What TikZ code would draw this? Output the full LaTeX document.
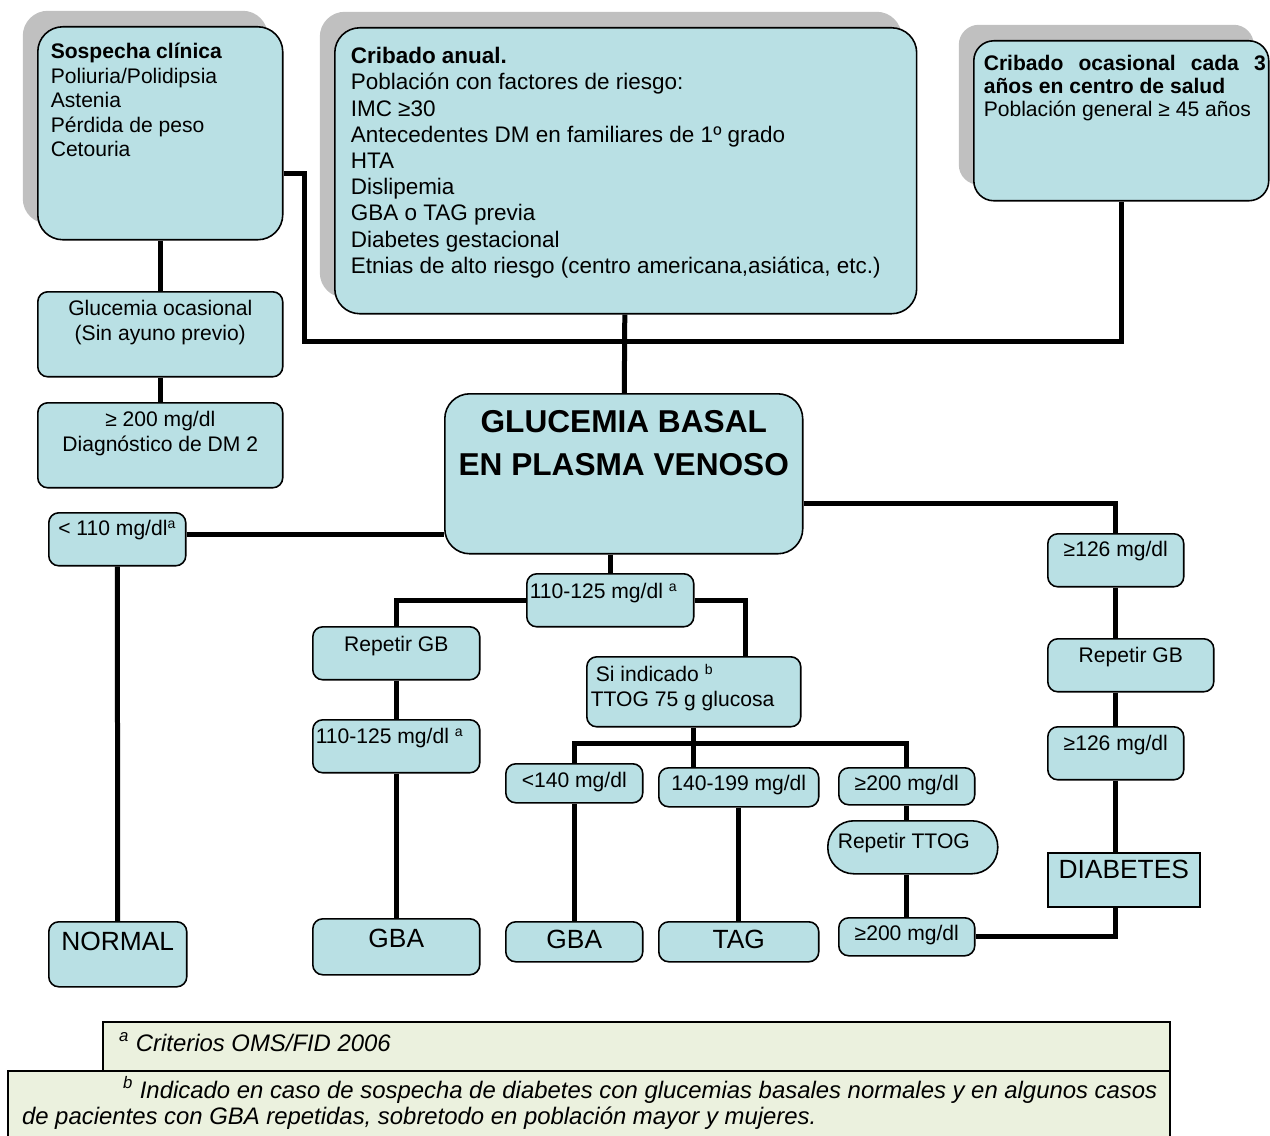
\documentclass[tikz,border=0pt]{standalone}
\usepackage{fontspec}
\setmainfont{Liberation Sans}
\usetikzlibrary{shadows}

\definecolor{celeste}{RGB}{185,224,228}
\definecolor{gris}{RGB}{192,192,192}
\definecolor{verdenota}{RGB}{235,241,222}

% caja: ancho, alto, altura de la primera linea, texto
\newcommand{\bloque}[4]{\parbox[c][#2][t]{#1}{\rule{0pt}{#3}#4}}

\begin{document}
\begin{tikzpicture}[x=0.02cm, y=-0.02cm,
  caja/.style={draw, fill=celeste, line width=0.9pt, rounded corners=0.2cm, inner sep=0pt, anchor=north west, font=\fontsize{12}{14.2}\selectfont},
  grande/.style={caja, rounded corners=0.5cm, drop shadow={shadow xshift=-0.3cm, shadow yshift=0.32cm, fill=gris, opacity=1}},
  final/.style={caja, font=\fontsize{15}{17}\selectfont},
  nota/.style={draw, fill=verdenota, line width=1.2pt, inner sep=0pt, anchor=north west, font=\fontsize{13.6}{14.8}\selectfont\itshape},
  conector/.style={line width=0.1cm}]

\useasboundingbox (0,0) rectangle (1270,1135);

% cribados
\node[grande, font=\fontsize{12}{13.95}\selectfont] (sosp) at (37,26) {\bloque{4.9cm}{4.26cm}{0.64cm}{\leftskip=0.26cm\relax
  \textbf{Sospecha clínica}\\Poliuria/Polidipsia\\Astenia\\Pérdida de peso\\Cetouria}};
\node[grande, font=\fontsize{12.8}{14.9}\selectfont] (anual) at (334,27) {\bloque{11.64cm}{5.72cm}{0.72cm}{\leftskip=0.32cm\relax
  \textbf{Cribado anual.}\\Población con factores de riesgo:\\IMC ≥30\\Antecedentes DM en familiares de 1º grado\\HTA\\Dislipemia\\GBA o TAG previa\\Diabetes gestacional\\Etnias de alto riesgo (centro americana,asiática, etc.)}};
\node[grande, rounded corners=0.4cm, font=\fontsize{12}{13.1}\selectfont] (ocas) at (973,40) {\bloque{5.9cm}{3.2cm}{0.6cm}{\leftskip=0.2cm\rightskip=0.06cm\relax
  \textbf{Cribado\hfill ocasional\hfill cada\hfill 3}\\\textbf{años en centro de salud}\\Población general ≥ 45 años}};

% rama izquierda
\node[caja] (gluoc) at (37,291) {\bloque{4.9cm}{1.7cm}{0.48cm}{\centering Glucemia ocasional\\(Sin ayuno previo)}};
\node[caja] (diag) at (37,402) {\bloque{4.9cm}{1.7cm}{0.48cm}{\centering ≥ 200 mg/dl\\Diagnóstico de DM 2}};
\node[caja] (menos110) at (48,512) {\bloque{2.74cm}{1.06cm}{0.46cm}{\centering < 110 mg/dl\textsuperscript{a}}};
\node[final] (normal) at (48,921) {\bloque{2.76cm}{1.3cm}{0.58cm}{\centering NORMAL}};

% glucemia basal
\node[caja, rounded corners=0.5cm, font=\fontsize{18}{24.4}\selectfont\bfseries] (gb) at (444,393) {\bloque{7.16cm}{3.2cm}{0.78cm}{\centering GLUCEMIA BASAL\\EN PLASMA VENOSO}};

% rama central
\node[caja] (t110a) at (526,573) {\bloque{3.34cm}{1.06cm}{0.5cm}{\leftskip=0.06cm\relax 110-125 mg/dl \textsuperscript{a}}};
\node[caja] (repgbL) at (312,626) {\bloque{3.34cm}{1.06cm}{0.5cm}{\centering Repetir GB}};
\node[caja] (t110b) at (312,719) {\bloque{3.34cm}{1.06cm}{0.48cm}{\leftskip=0.06cm\relax 110-125 mg/dl \textsuperscript{a}}};
\node[final] (gbaL) at (312,918) {\bloque{3.34cm}{1.12cm}{0.58cm}{\centering GBA}};
\node[caja] (siind) at (586,656) {\bloque{4.28cm}{1.4cm}{0.5cm}{\leftskip=0.08cm\relax\hspace*{0.1cm}Si indicado \textsuperscript{b}\\TTOG 75 g glucosa}};
\node[caja] (m140) at (505,763) {\bloque{2.74cm}{0.78cm}{0.48cm}{\centering <140 mg/dl}};
\node[caja] (t140) at (658,767) {\bloque{3.2cm}{0.78cm}{0.46cm}{\centering 140-199 mg/dl}};
\node[caja] (m200a) at (838,767) {\bloque{2.72cm}{0.74cm}{0.46cm}{\centering ≥200 mg/dl}};
\node[caja, rounded corners=0.52cm] (rttog) at (827,820) {\bloque{3.4cm}{1.06cm}{0.56cm}{\leftskip=0.2cm\relax Repetir TTOG}};
\node[caja] (m200b) at (838,917) {\bloque{2.72cm}{0.76cm}{0.46cm}{\centering ≥200 mg/dl}};
\node[final] (gbaM) at (505,921) {\bloque{2.74cm}{0.8cm}{0.54cm}{\centering GBA}};
\node[final] (tag) at (658,921) {\bloque{3.2cm}{0.8cm}{0.54cm}{\centering TAG}};

% rama derecha
\node[caja] (mas126a) at (1047,533) {\bloque{2.72cm}{1.06cm}{0.46cm}{\centering ≥126 mg/dl}};
\node[caja] (repgbR) at (1047,638) {\bloque{3.32cm}{1.06cm}{0.48cm}{\centering Repetir GB}};
\node[caja] (mas126b) at (1047,726) {\bloque{2.72cm}{1.06cm}{0.48cm}{\centering ≥126 mg/dl}};
\node[final, sharp corners] (diab) at (1047,852) {\bloque{3.04cm}{1.08cm}{0.52cm}{\centering DIABETES}};

% notas
\node[nota] (notaA) at (102,1021) {\bloque{21.34cm}{0.98cm}{0.58cm}{\leftskip=0.32cm\relax\textsuperscript{a} Criterios OMS/FID 2006}};
\node[nota] (notaB) at (7,1070) {\bloque{23.24cm}{1.4cm}{0.54cm}{\leftskip=0.28cm\relax\hspace*{2.02cm}\mbox{\textsuperscript{b} Indicado en caso de sospecha de diabetes con glucemias basales normales y en algunos casos}\\de pacientes con GBA repetidas, sobretodo en población mayor y mujeres.}};

% conectores
\coordinate (codo) at (304,341);
\coordinate (izq) at ([yshift=0.1cm]menos110.east);
\coordinate (der) at ([yshift=-0.6cm]gb.east);

\draw[conector] (sosp) edge (gluoc)
  (gluoc) edge (diag)
  (anual) edge (gb)
  (menos110) edge (normal)
  (repgbL) edge (t110b)
  (t110b) edge (gbaL)
  (m140) edge (gbaM)
  (t140) edge (tag);

\draw[conector] ([yshift=-0.8cm]sosp.east) -| (codo) -| (ocas.south);
\draw[conector] (izq) -- (izq -| gb.west);
\draw[conector] (der) -| (mas126a.north);
\draw[conector] (mas126a.south) -- (mas126a.south |- repgbR.north);
\draw[conector] (mas126b.north |- repgbR.south) -- (mas126b.north);
\draw[conector] (mas126b.south) -- (mas126b.south |- diab.north);
\draw[conector] (m200b.east) -| (mas126b.south |- diab.south);
\draw[conector] (t110a.north |- gb.south) -- (t110a.north);
\draw[conector] (t110a.west) -| (repgbL.north);
\draw[conector] (t110a.east) -| ([xshift=1.04cm]siind.north);
\draw[conector] (siind.south) -- (siind.south |- t140.north);
\draw[conector] (m140.north) -- ++(0,-20) -| (m200a.north);
\draw[conector] (m200a.south) -- (m200a.south |- rttog.north);
\draw[conector] (m200b.north |- rttog.south) -- (m200b.north);

\end{tikzpicture}
\end{document}
